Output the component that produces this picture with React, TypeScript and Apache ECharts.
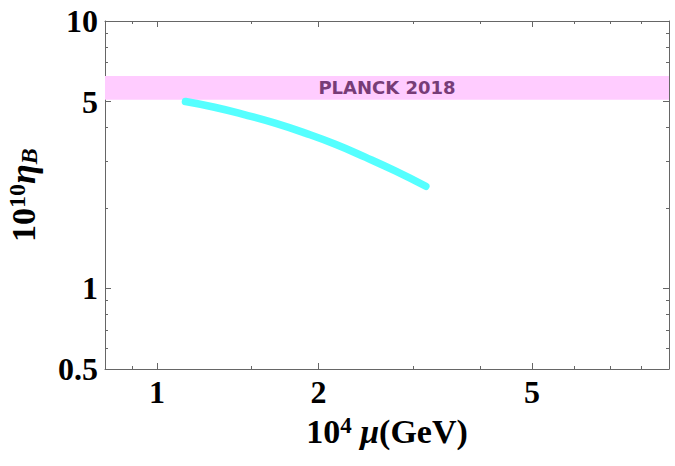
import React, { useEffect, useRef } from 'react';
import * as echarts from 'echarts';

// Curve: mu in units of 10^4 GeV, eta_B in units of 10^-10
const muValues = [1.13, 1.28, 1.46, 1.66, 1.89, 2.15, 2.45, 2.78, 3.17];
const etaValues = [5.0, 4.76, 4.46, 4.15, 3.81, 3.46, 3.09, 2.75, 2.41];

// Planck 2018 band (lower, upper)
const planckBand = [5.08, 6.23];
const planckLabel = 'PLANCK 2018';

// Axis ranges and tick values
const xRange = [0.8, 9];
const yRange = [0.5, 10];
const xMajorTicks = [1, 2, 5];
const xMinorTicks = [0.9, 1.5, 3, 4, 6, 7, 8];
const yMajorTicks = [0.5, 1, 5, 10];
const yMinorTicks = [0.6, 0.7, 0.8, 0.9, 2, 3, 4, 6, 7, 8, 9];

const lg = (v: number) => Math.log10(v);
const frameColor = '#666666';
const serif = 'Liberation Serif';

function fmt(ticks: number[]) {
  return (v: number) => {
    const t = ticks.find((k) => Math.abs(lg(k) - v) < 1e-6);
    return t === undefined ? '' : String(t);
  };
}

function axis(
  dim: 'x' | 'y',
  position: string,
  ticks: number[],
  len: number,
  line: boolean,
  labels: boolean,
  extra: any = {}
) {
  const range = dim === 'x' ? xRange : yRange;
  return {
    type: 'value',
    position,
    min: lg(range[0]),
    max: lg(range[1]),
    splitLine: { show: false },
    axisLine: { show: line, onZero: false, lineStyle: { color: frameColor, width: 1 } },
    axisTick: {
      show: true,
      inside: true,
      length: len,
      customValues: ticks.map(lg),
      lineStyle: { color: frameColor, width: 1 },
    },
    axisLabel: {
      show: labels,
      customValues: ticks.map(lg),
      formatter: fmt(ticks),
      fontFamily: serif,
      fontWeight: 'bold',
      fontSize: 32,
      color: '#000',
      margin: 7,
      hideOverlap: false,
      showMinLabel: true,
      showMaxLabel: true,
    },
    ...extra,
  };
}

export default function App() {
  const ref = useRef<HTMLDivElement>(null);
  useEffect(() => {
    if (!ref.current) return;
    const chart = echarts.init(ref.current, undefined, { renderer: 'svg' });
    const option: any = {
      animation: false,
      backgroundColor: '#ffffff',
      grid: {
        left: 105,
        top: 21,
        right: 6,
        bottom: 97,
        containLabel: false,
        outerBoundsMode: 'none',
      },
      xAxis: [
        axis('x', 'bottom', xMajorTicks, 6, true, true, {
          name: '{n|10}{sup|4}{it| μ}{n|(GeV)}',
          nameLocation: 'middle',
          nameGap: 45,
          nameTextStyle: {
            rich: {
              n: { fontFamily: serif, fontWeight: 'bold', fontSize: 34, color: '#000' },
              sup: {
                fontFamily: serif,
                fontWeight: 'bold',
                fontSize: 23,
                color: '#000',
                verticalAlign: 'top',
              },
              it: {
                fontFamily: serif,
                fontWeight: 'bold',
                fontStyle: 'italic',
                fontSize: 34,
                color: '#000',
              },
            },
          },
        }),
        axis('x', 'bottom', xMinorTicks, 3, false, false),
        axis('x', 'top', xMajorTicks, 6, true, false),
        axis('x', 'top', xMinorTicks, 3, false, false),
      ],
      yAxis: [
        axis('y', 'left', yMajorTicks, 6, true, true, {
          name: '{n|10}{sup|10}{it|η}{sub|B}',
          nameLocation: 'middle',
          nameRotate: 90,
          nameGap: 64,
          nameTextStyle: {
            rich: {
              n: { fontFamily: serif, fontWeight: 'bold', fontSize: 34, color: '#000' },
              sup: {
                fontFamily: serif,
                fontWeight: 'bold',
                fontSize: 24,
                color: '#000',
                verticalAlign: 'top',
              },
              it: {
                fontFamily: serif,
                fontWeight: 'bold',
                fontStyle: 'italic',
                fontSize: 36,
                color: '#000',
              },
              sub: {
                fontFamily: serif,
                fontWeight: 'bold',
                fontStyle: 'italic',
                fontSize: 24,
                color: '#000',
                verticalAlign: 'bottom',
              },
            },
          },
        }),
        axis('y', 'left', yMinorTicks, 3, false, false),
        axis('y', 'right', yMajorTicks, 6, true, false),
        axis('y', 'right', yMinorTicks, 3, false, false),
      ],
      series: [
        {
          type: 'line',
          xAxisIndex: 0,
          yAxisIndex: 0,
          data: muValues.map((m, i) => [lg(m), lg(etaValues[i])]),
          smooth: true,
          symbol: 'none',
          lineStyle: { color: '#55ffff', width: 7.5, cap: 'round', join: 'round' },
          markArea: {
            silent: true,
            itemStyle: { color: '#ffccff' },
            label: {
              show: true,
              position: 'inside',
              formatter: planckLabel,
              color: '#773c77',
              fontFamily: 'DejaVu Sans',
              fontWeight: 'bold',
              fontSize: 18,
            },
            data: [[{ yAxis: lg(planckBand[0]) }, { yAxis: lg(planckBand[1]) }]],
          },
        },
      ],
    };
    chart.setOption(option);
    return () => chart.dispose();
  }, []);
  return (
    <div
      ref={ref}
      style={{ position: 'fixed', left: 0, top: 0, width: 675, height: 466, background: '#fff' }}
    />
  );
}
